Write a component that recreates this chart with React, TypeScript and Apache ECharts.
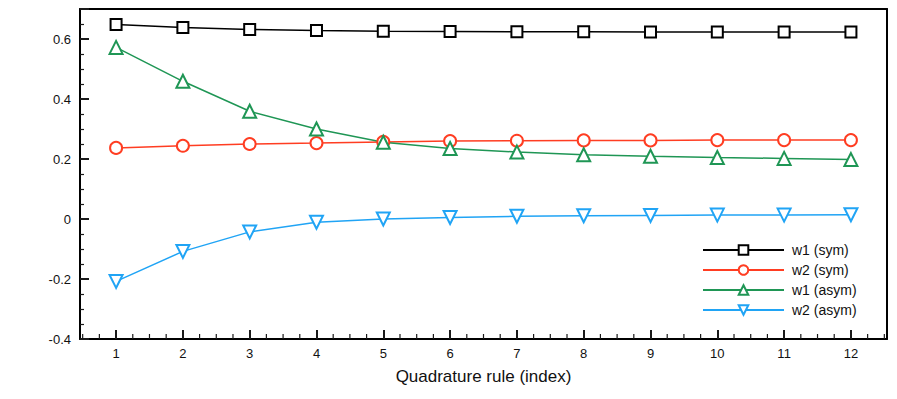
import React, { useEffect, useRef } from "react";
import * as echarts from "echarts";

const xIndex = [1, 2, 3, 4, 5, 6, 7, 8, 9, 10, 11, 12];
const w1Sym = [0.648, 0.638, 0.632, 0.628, 0.626, 0.625, 0.624, 0.624, 0.623, 0.623, 0.623, 0.623];
const w2Sym = [0.237, 0.244, 0.25, 0.253, 0.257, 0.26, 0.261, 0.262, 0.262, 0.263, 0.263, 0.263];
const w1Asym = [0.572, 0.459, 0.359, 0.3, 0.256, 0.235, 0.223, 0.214, 0.209, 0.205, 0.202, 0.198];
const w2Asym = [-0.208, -0.108, -0.043, -0.011, 0.0, 0.005, 0.009, 0.011, 0.012, 0.013, 0.013, 0.014];
const xMinorTicks = [0.5, 0.75, 1.25, 1.5, 1.75, 2.25, 2.5, 2.75, 3.25, 3.5, 3.75, 4.25, 4.5, 4.75, 5.25, 5.5, 5.75, 6.25, 6.5, 6.75, 7.25, 7.5, 7.75, 8.25, 8.5, 8.75, 9.25, 9.5, 9.75, 10.25, 10.5, 10.75, 11.25, 11.5, 11.75, 12.25, 12.5];
const X_MIN = 0.46;
const X_MAX = 12.54;
const Y_MIN = -0.4;
const Y_MAX = 0.7;

const FONT = "'Liberation Sans', Arial, Helvetica, sans-serif";
const TICK = "#1a1a1a";

export default function App() {
  const ref = useRef<HTMLDivElement>(null);
  useEffect(() => {
    if (!ref.current) return;
    const chart = echarts.init(ref.current, undefined, { renderer: "svg" });
    const pair = (arr: number[]) => arr.map((v, i) => [xIndex[i], v]);
    const mk = (name: string, data: number[], color: string, symbol: string, size: number, rotate = 0) => ({
      name,
      type: "line",
      data: pair(data),
      symbol,
      symbolSize: size,
      symbolRotate: rotate,
      lineStyle: { color, width: 1.5 },
      itemStyle: { color, borderWidth: 1.5 },
    });
    chart.setOption({
      animation: false,
      textStyle: { fontFamily: FONT },
      grid: { left: 80, right: 10, top: 9, bottom: 60 },
      legend: {
        orient: "vertical",
        left: 697,
        top: 238,
        itemWidth: 81,
        itemHeight: 12,
        itemGap: 6,
        textStyle: { fontSize: 14, color: "#111", fontFamily: FONT, padding: [0, 0, 0, 3] },
        data: ["w1 (sym)", "w2 (sym)", "w1 (asym)", "w2 (asym)"],
      },
      xAxis: [
        {
          type: "value",
          min: X_MIN,
          max: X_MAX,
          name: "Quadrature rule (index)",
          nameLocation: "middle",
          nameGap: 29,
          nameTextStyle: { fontSize: 17, color: "#111", fontFamily: FONT },
          axisLine: { show: true, onZero: false, lineStyle: { color: "#000", width: 2 } },
          axisTick: { show: true, inside: true, length: 9, customValues: xIndex, lineStyle: { color: TICK, width: 2 } },
          axisLabel: { customValues: xIndex, color: "#111", fontSize: 13, margin: 8 },
          splitLine: { show: false },
        },
        {
          type: "value",
          min: X_MIN,
          max: X_MAX,
          position: "top",
          axisLine: { show: true, onZero: false, lineStyle: { color: "#000", width: 2 } },
          axisTick: { show: false },
          axisLabel: { show: false },
          splitLine: { show: false },
        },
      ],
      yAxis: [
        {
          type: "value",
          min: Y_MIN,
          max: Y_MAX,
          interval: 0.2,
          axisLine: { show: true, onZero: false, lineStyle: { color: "#000", width: 2 } },
          axisTick: { show: true, inside: true, length: 9, lineStyle: { color: TICK, width: 2 } },
          minorTick: { show: true, splitNumber: 4, length: 4, lineStyle: { color: TICK, width: 1.2 } },
          axisLabel: { color: "#111", fontSize: 13, margin: 9, showMaxLabel: false },
          splitLine: { show: false },
        },
        {
          type: "value",
          min: Y_MIN,
          max: Y_MAX,
          interval: 0.2,
          position: "right",
          axisLine: { show: true, onZero: false, lineStyle: { color: "#000", width: 2 } },
          axisTick: { show: false },
          axisLabel: { show: false },
          splitLine: { show: false },
        },
      ],
      series: [
        mk("w1 (sym)", w1Sym, "#000000", "emptyRect", 11),
        mk("w2 (sym)", w2Sym, "#ff3d22", "emptyCircle", 12),
        mk("w1 (asym)", w1Asym, "#1f9655", "emptyTriangle", 13),
        mk("w2 (asym)", w2Asym, "#20a4f5", "emptyTriangle", 13, 180),
        {
          type: "custom",
          name: "minor",
          silent: true,
          clip: false,
          z: 10,
          data: xMinorTicks.map((v) => [v, Y_MIN]),
          renderItem: (_params: any, api: any) => {
            const p = api.coord([api.value(0), api.value(1)]);
            return {
              type: "rect",
              shape: { x: p[0] - 0.6, y: p[1] - 5, width: 1.2, height: 5 },
              style: { fill: TICK },
            };
          },
        },
      ],
    });
    return () => chart.dispose();
  }, []);
  return <div ref={ref} style={{ width: 897, height: 399, margin: -8 }} />;
}
